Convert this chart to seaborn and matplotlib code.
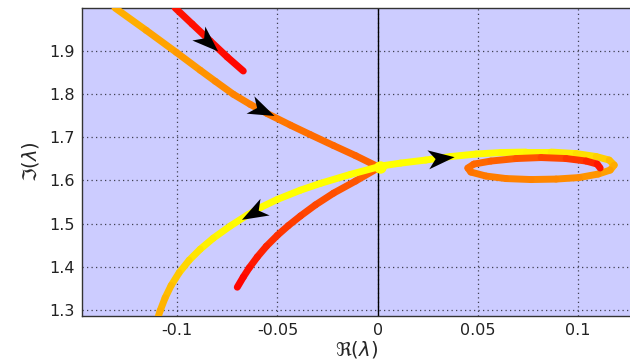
import numpy as np
import matplotlib
matplotlib.use("Agg")
import matplotlib.pyplot as plt
import seaborn as sns
from matplotlib.collections import LineCollection
from matplotlib.markers import MarkerStyle
from matplotlib.path import Path
from matplotlib.transforms import Affine2D

# ---- eigenvalue branches: real part, imaginary part, colour parameter ----
# short red branch (top left)
a_re = [-0.101, -0.0925, -0.0835, -0.075, -0.067]
a_im = [1.999, 1.9618, 1.9225, 1.8854, 1.853]
a_c = [0.92, 0.94, 0.95, 0.97, 0.98]

# orange branch coming down to the crossing
b_re = [-0.131, -0.1155, -0.1005, -0.0885, -0.081, -0.072, -0.0635, -0.055,
        -0.0435, -0.0335, -0.022, -0.011, 0.0]
b_im = [1.999, 1.9474, 1.8965, 1.8549, 1.8294, 1.7993, 1.7757, 1.7544,
        1.7278, 1.7056, 1.6806, 1.6572, 1.632]
b_c = [0.30, 0.34, 0.38, 0.41, 0.44, 0.48, 0.50, 0.52, 0.55, 0.57, 0.59, 0.61, 0.62]

# yellow branch spiralling to the right
c_re = [0.0, 0.0115, 0.024, 0.0365, 0.049, 0.0615, 0.074, 0.0865, 0.099, 0.109,
        0.1155, 0.118, 0.116, 0.11, 0.1005, 0.089, 0.0765, 0.064, 0.054, 0.0465,
        0.045, 0.048, 0.0565, 0.069, 0.0815, 0.094, 0.104, 0.1095, 0.111]
c_im = [1.632, 1.640, 1.647, 1.6551, 1.6609, 1.6644, 1.6655, 1.6655, 1.662, 1.6551,
        1.647, 1.6354, 1.6238, 1.6146, 1.6065, 1.603, 1.6019, 1.6042, 1.61, 1.6192,
        1.6285, 1.6377, 1.6447, 1.6505, 1.6528, 1.6505, 1.6447, 1.6377, 1.6285]
c_c = [0.0, 0.0, 0.0, 0.0, 0.01, 0.02, 0.03, 0.05, 0.10, 0.15,
       0.22, 0.30, 0.35, 0.40, 0.44, 0.46, 0.48, 0.50, 0.52, 0.54,
       0.56, 0.58, 0.61, 0.64, 0.69, 0.75, 0.82, 0.88, 0.97]

# yellow branch going down-left
d_re = [0.0, -0.0135, -0.0285, -0.0385, -0.05, -0.0585, -0.065, -0.0735,
        -0.082, -0.0885, -0.094, -0.099, -0.103, -0.106, -0.1085, -0.11]
d_im = [1.6308, 1.6139, 1.5931, 1.5773, 1.556, 1.537, 1.5197, 1.4944,
        1.4662, 1.4407, 1.4153, 1.3863, 1.3567, 1.3282, 1.2981, 1.2766]
d_c = [0.0, 0.0, 0.0, 0.0, 0.0, 0.01, 0.01, 0.02, 0.04, 0.08, 0.13, 0.19, 0.24,
       0.28, 0.31, 0.32]

# red-orange branch going down-left
e_re = [0.0, -0.011, -0.022, -0.031, -0.0385, -0.0445, -0.05, -0.0555,
        -0.06, -0.064, -0.067, -0.07]
e_im = [1.628, 1.5984, 1.5704, 1.5433, 1.5176, 1.4954, 1.4729, 1.4475,
        1.4229, 1.3979, 1.3764, 1.3528]
e_c = [0.62, 0.65, 0.68, 0.71, 0.74, 0.77, 0.80, 0.84, 0.88, 0.92, 0.96, 1.0]

# direction arrows (position and direction in data units)
arr_re = [-0.0845, -0.0575, 0.0315, -0.062]
arr_im = [1.920, 1.763, 1.652, 1.524]
arr_dre = [0.034, 0.023, 0.03, -0.02]
arr_dim = [-0.146, -0.0486, 0.0139, -0.051]

# crossing point
cross_re = [0.001]
cross_im = [1.630]

x_ticks = [-0.1, -0.05, 0, 0.05, 0.1]
x_ticklabels = ["-0.1", "-0.05", "0", "0.05", "0.1"]
y_ticks = [1.3, 1.4, 1.5, 1.6, 1.7, 1.8, 1.9]

sns.set_style("white", {"axes.facecolor": "#ccccff"})
plt.rcParams["font.family"] = ["DejaVu Sans"]

fig = plt.figure(figsize=(6.3, 3.6), dpi=100)
ax = fig.add_axes([0.130, 0.122, 0.872, 0.856])

ax.set_xlim(-0.1475, 0.1265)
ax.set_ylim(1.286, 1.999)

ax.axvline(0, color="black", lw=1.0, zorder=1)

cmap = plt.get_cmap("autumn_r")


def gradient_line(xs, ys, cs):
    pts = np.column_stack([xs, ys]).reshape(-1, 1, 2)
    segs = np.concatenate([pts[:-1], pts[1:]], axis=1)
    cs = np.asarray(cs)
    mid = (cs[:-1] + cs[1:]) / 2
    lc = LineCollection(segs, colors=cmap(mid), linewidths=5.0,
                        capstyle="round", joinstyle="round", zorder=3)
    ax.add_collection(lc)


gradient_line(b_re, b_im, b_c)
gradient_line(e_re, e_im, e_c)
gradient_line(a_re, a_im, a_c)
gradient_line(d_re, d_im, d_c)
gradient_line(c_re, c_im, c_c)

sns.scatterplot(x=cross_re, y=cross_im, color="#ffff00", s=80, linewidth=0,
                zorder=4, ax=ax)

# arrow heads
fig.canvas.draw()
head = Path([(1, 0), (-1, 0.72), (-0.45, 0), (-1, -0.72), (1, 0)],
            [Path.MOVETO, Path.LINETO, Path.LINETO, Path.LINETO, Path.CLOSEPOLY])
for x0, y0, dx, dy in zip(arr_re, arr_im, arr_dre, arr_dim):
    p0 = ax.transData.transform((x0, y0))
    p1 = ax.transData.transform((x0 + dx, y0 + dy))
    ang = np.degrees(np.arctan2(p1[1] - p0[1], p1[0] - p0[0]))
    m = MarkerStyle(head, transform=Affine2D().rotate_deg(ang))
    ax.plot([x0], [y0], marker=m, markersize=19, color="black",
            markeredgewidth=0, linestyle="none", zorder=5)

ax.set_xticks(x_ticks)
ax.set_xticklabels(x_ticklabels)
ax.set_yticks(y_ticks)
ax.grid(True, color="#404050", linestyle=(0, (1, 2.6)), linewidth=0.9)
ax.set_axisbelow(True)
ax.tick_params(axis="both", direction="in", length=3, labelsize=11.5,
               colors="#222222", pad=5)

for side in ["left", "top", "bottom"]:
    ax.spines[side].set_color("#333333")
    ax.spines[side].set_linewidth(1.0)
ax.spines["right"].set_visible(False)

ax.set_xlabel(r"$\Re(\lambda)$", fontsize=14, labelpad=1)
ax.set_ylabel(r"$\Im(\lambda)$", fontsize=14, labelpad=6)

fig.savefig("out.png", dpi=100)
